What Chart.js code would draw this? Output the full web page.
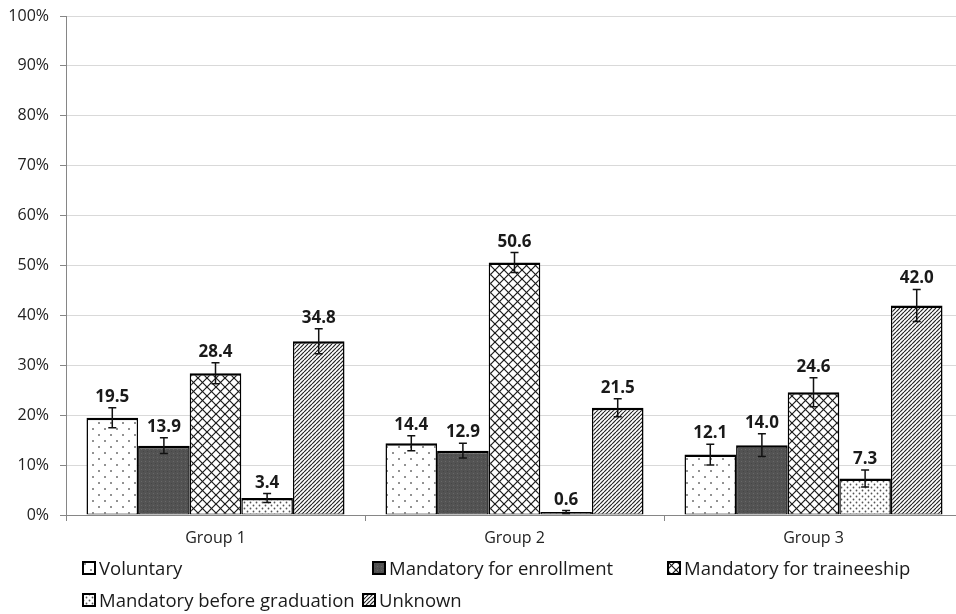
<!DOCTYPE html>
<html>
<head>
<meta charset="utf-8">
<script src="https://cdn.jsdelivr.net/npm/chart.js@4.4.1/dist/chart.umd.min.js"></script>
<style>
  html, body { margin: 0; padding: 0; background: #fff; overflow: hidden; }
  #wrap { position: relative; width: 956px; height: 614px; overflow: hidden; }
  #chart { position: absolute; left: 0; top: 0; }
  .leg { position: absolute; display: flex; align-items: center; white-space: nowrap;
         font-family: "Open Sans", sans-serif; font-size: 18.5px; color: #1a1a1a; line-height: 20px; }
  .leg canvas { margin-right: 3px; }
</style>
</head>
<body>
<div id="wrap">
  <canvas id="chart" width="970" height="614" style="width:970px;height:614px"></canvas>
</div>
<script>
// Chart data
const categories = ['Group 1', 'Group 2', 'Group 3'];
const seriesNames = ['Voluntary', 'Mandatory for enrollment', 'Mandatory for traineeship',
                     'Mandatory before graduation', 'Unknown'];
const voluntary   = [19.5, 14.4, 12.1];
const enrollment  = [13.9, 12.9, 14.0];
const traineeship = [28.4, 50.6, 24.6];
const beforeGrad  = [3.4, 0.6, 7.3];
const unknown     = [34.8, 21.5, 42.0];
// error bar half-widths
const voluntaryErr   = [2.0, 1.5, 2.1];
const enrollmentErr  = [1.6, 1.5, 2.3];
const traineeshipErr = [2.1, 2.0, 2.9];
const beforeGradErr  = [0.9, 0.3, 1.7];
const unknownErr     = [2.5, 1.8, 3.2];
const yTicks = [0, 10, 20, 30, 40, 50, 60, 70, 80, 90, 100];

const FONT = '"Open Sans", sans-serif';

// Build a small tile and turn it into a fill pattern
function makePattern(ctx, kind) {
  const sizes = { dots: 12, dark: 4, cross: 9, fineDots: 6, diag: 4 };
  const s = sizes[kind];
  const c = document.createElement('canvas');
  c.width = s; c.height = s;
  const t = c.getContext('2d');
  t.fillStyle = kind === 'dark' ? '#535353' : '#fff';
  t.fillRect(0, 0, s, s);
  if (kind === 'dots') {
    t.fillStyle = '#6e6e6e';
    [[3, 3], [9, 9]].forEach(p => { t.beginPath(); t.arc(p[0], p[1], 1, 0, Math.PI * 2); t.fill(); });
  } else if (kind === 'dark') {
    t.fillStyle = '#686868'; t.fillRect(1, 1, 1, 1);
    t.fillStyle = '#464646'; t.fillRect(3, 3, 1, 1);
  } else if (kind === 'cross') {
    t.strokeStyle = '#1a1a1a'; t.lineWidth = 1.2;
    [-s, 0, s].forEach(k => {
      t.beginPath(); t.moveTo(k, 0); t.lineTo(k + s, s); t.stroke();
      t.beginPath(); t.moveTo(k + s, 0); t.lineTo(k, s); t.stroke();
    });
  } else if (kind === 'fineDots') {
    t.fillStyle = '#555';
    [[1.5, 1.5], [4.5, 4.5]].forEach(p => { t.beginPath(); t.arc(p[0], p[1], 0.9, 0, Math.PI * 2); t.fill(); });
  } else if (kind === 'diag') {
    t.strokeStyle = '#262626'; t.lineWidth = 1.2;
    [-s, 0, s].forEach(k => { t.beginPath(); t.moveTo(k, s); t.lineTo(k + s, 0); t.stroke(); });
  }
  return ctx.createPattern(c, 'repeat');
}

const patternKinds = ['dots', 'dark', 'cross', 'fineDots', 'diag'];
const seriesValues = [voluntary, enrollment, traineeship, beforeGrad, unknown];
const seriesErrors = [voluntaryErr, enrollmentErr, traineeshipErr, beforeGradErr, unknownErr];

const canvas = document.getElementById('chart');
const ctx = canvas.getContext('2d');

const datasets = seriesNames.map((name, i) => ({
  label: name,
  data: seriesValues[i],
  errors: seriesErrors[i],
  backgroundColor: makePattern(ctx, patternKinds[i]),
  borderColor: '#000',
  borderWidth: { top: 2.5, left: 1.5, right: 1.5, bottom: 1 },
  borderSkipped: false,
  categoryPercentage: 0.863,
  barPercentage: 1
}));

// Error bars and value labels above them
const errorBarPlugin = {
  id: 'errorBars',
  afterDatasetsDraw(chart) {
    const c = chart.ctx;
    const yScale = chart.scales.y;
    c.save();
    chart.data.datasets.forEach((ds, di) => {
      const meta = chart.getDatasetMeta(di);
      meta.data.forEach((bar, i) => {
        const v = ds.data[i];
        const e = ds.errors[i];
        const yTop = yScale.getPixelForValue(v + e);
        const yBot = yScale.getPixelForValue(Math.max(0, v - e));
        c.strokeStyle = '#111';
        c.lineWidth = 1.5;
        c.beginPath();
        c.moveTo(bar.x, yTop); c.lineTo(bar.x, yBot);
        c.moveTo(bar.x - 4, yTop); c.lineTo(bar.x + 4, yTop);
        c.moveTo(bar.x - 4, yBot); c.lineTo(bar.x + 4, yBot);
        c.stroke();
        c.fillStyle = '#1a1a1a';
        c.font = 'bold 17px ' + FONT;
        c.textAlign = 'center';
        c.textBaseline = 'alphabetic';
        c.fillText(v.toFixed(1), bar.x, yTop - 6);
      });
    });
    c.restore();
  }
};

new Chart(ctx, {
  type: 'bar',
  data: { labels: categories, datasets: datasets },
  plugins: [errorBarPlugin],
  options: {
    responsive: false,
    animation: false,
    layout: { padding: { top: 16, right: 7, left: 0, bottom: 0 } },
    plugins: { legend: { display: false }, tooltip: { enabled: false } },
    scales: {
      x: {
        grid: { drawOnChartArea: false, drawTicks: true, tickLength: 6, color: '#868686', offset: true },
        border: { color: '#868686', width: 1 },
        ticks: { font: { family: FONT, size: 16 }, color: '#222', padding: 8 },
        afterFit(s) { s.height = 99; }
      },
      y: {
        min: 0,
        max: 100,
        afterBuildTicks(s) { s.ticks = yTicks.map(v => ({ value: v })); },
        // small padding keeps the top of the plot at the reference height;
        // the trailing en space moves the text clear of the tick marks
        ticks: { font: { family: FONT, size: 16 }, color: '#222', padding: 3,
                 callback: v => v + '%\u2002' },
        grid: { color: '#d9d9d9', tickColor: '#868686', tickLength: 6, lineWidth: 1 },
        border: { color: '#868686', width: 1 },
        afterFit(s) { s.width = 66; }
      }
    }
  }
});

// Legend laid out the way the original one flows
const legendSpots = [[82, 568], [372, 568], [667, 568], [82, 600], [362, 600]];
const wrap = document.getElementById('wrap');
seriesNames.forEach((name, i) => {
  const item = document.createElement('div');
  item.className = 'leg';
  item.style.left = legendSpots[i][0] + 'px';
  item.style.top = (legendSpots[i][1] - 10) + 'px';
  const sw = document.createElement('canvas');
  sw.width = 14; sw.height = 14;
  const sctx = sw.getContext('2d');
  sctx.fillStyle = makePattern(sctx, patternKinds[i]);
  sctx.fillRect(0, 0, 14, 14);
  sctx.strokeStyle = '#000';
  sctx.lineWidth = 2;
  sctx.strokeRect(1, 1, 12, 12);
  item.appendChild(sw);
  const label = document.createElement('span');
  label.textContent = name;
  item.appendChild(label);
  wrap.appendChild(item);
});
</script>
</body>
</html>
